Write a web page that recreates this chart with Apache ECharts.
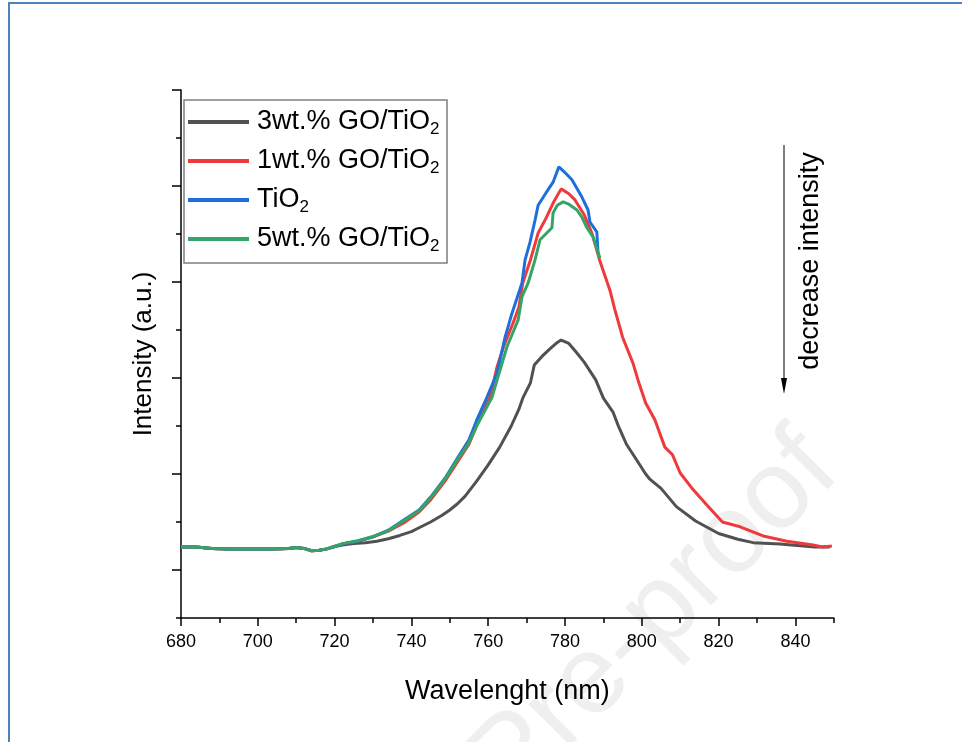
<!DOCTYPE html>
<html style="height: 100%">
<head>
  <meta charset="utf-8">
  <title>PL spectra</title>
</head>
<body style="height: 100%; margin: 0; background: #fff">
  <div id="container" style="width: 962px; height: 742px"></div>
  <script src="https://cdn.jsdelivr.net/npm/echarts@6/dist/echarts.min.js"></script>
  <script type="text/javascript">
    // values, intensity in arbitrary units (one tick = 100)
    var wlShared = [680, 684, 688, 692, 696, 700, 704, 708, 710, 712, 714, 716, 718, 720];
    var intShared = [148, 148, 145, 144, 144, 144, 144, 145, 147, 145, 140, 141, 144, 149];

    var wl3 = [722, 725, 728, 731, 734, 737, 740, 742, 745, 748, 750, 752, 754, 757, 760, 763, 766, 768, 769, 771,
      772, 774, 776, 778, 779, 781, 783, 785, 788, 790, 792.5, 794, 796, 799, 801, 802, 805, 809, 814, 820,
      825, 829, 836, 845, 849];
    var int3 = [152, 155, 157, 160, 165, 172, 180, 188, 200, 214, 225, 238, 254, 285, 319, 356, 400, 435, 458, 490,
      527, 545, 560, 574, 579, 572, 553, 533, 496, 458, 429, 398, 362, 325, 300, 290, 270, 232, 202, 176,
      164, 157, 154, 148, 148];

    var wl1 = [722, 726, 730, 734, 738, 742, 745, 749, 752, 755, 758, 760.5, 762.3, 764, 766.5, 768, 769, 771, 773, 775,
      777, 779, 781, 782.6, 785, 787, 789, 791.7, 793, 795, 797.7, 799, 801, 803.4, 806, 808, 810, 813, 817, 821,
      825.6, 831.6, 837.8, 844.6, 847, 849.5];
    var int1 = [154, 160, 169, 181, 198, 221, 246, 288, 325, 362, 420, 460, 523, 565, 615, 648, 698, 746, 802, 832,
      866, 894, 884, 871, 840, 802, 746, 683, 642, 585, 531, 496, 448, 413, 356, 340, 302, 271, 235, 200,
      190, 171, 160, 152, 148, 150];

    var wlT = [722, 726, 730, 734, 738, 742, 745, 749, 752, 755, 757, 759.7, 762.3, 764.4, 766.2, 768.8, 769.6, 770.9, 772.2, 773,
      775, 776.9, 778.4, 780, 781.8, 784.4, 786, 786.5, 788.3, 788.6];
    var intT = [154, 160, 169, 183, 204, 225, 252, 294, 333, 371, 412, 460, 510, 585, 635, 698, 746, 783, 829, 860,
      885, 908, 940, 928, 913, 877, 850, 825, 804, 760];

    var wl5 = [722, 726, 730, 734, 738, 742, 745, 749, 752, 755, 757, 761, 763.1, 764.9, 767.8, 768.8, 770.4, 772.2, 773.5, 776.6,
      776.9, 778, 779.5, 781, 783.1, 784.4, 785.7, 787.3, 789.1];
    var int5 = [155, 161, 170, 182, 202, 224, 250, 292, 330, 365, 400, 460, 517, 565, 621, 669, 698, 746, 788, 813,
      844, 860, 867, 862, 850, 835, 813, 794, 750];

    var names = ['3wt.% GO/TiO2', '1wt.% GO/TiO2', 'TiO2', '5wt.% GO/TiO2'];
    var colors = ['#515151', '#ef3a3c', '#1f6fdb', '#35a466'];

    function pairs(xs, ys) {
      var out = [];
      for (var i = 0; i < xs.length; i++) out.push([xs[i], ys[i]]);
      return out;
    }
    var curves = [
      pairs(wlShared.concat(wl3), intShared.concat(int3)),
      pairs(wlShared.concat(wl1), intShared.concat(int1)),
      pairs(wlShared.concat(wlT), intShared.concat(intT)),
      pairs(wlShared.concat(wl5), intShared.concat(int5))
    ];

    var font = "'Liberation Sans', Arial, sans-serif";
    var dom = document.getElementById('container');
    var myChart = echarts.init(dom, null, { renderer: 'canvas' });

    var series = curves.map(function (d, i) {
      return {
        name: names[i],
        type: 'line',
        xAxisIndex: 0,
        yAxisIndex: 0,
        data: d,
        showSymbol: false,
        symbol: 'none',
        color: colors[i],
        lineStyle: { width: 3, color: colors[i] },
        z: 2 + i
      };
    });

    var tickStyle = { color: '#000', width: 1.5 };
    var off = { show: false };

    var option = {
      animation: false,
      backgroundColor: '#fff',
      textStyle: { fontFamily: font },
      grid: [
        { left: 181, top: 90, width: 652.8, height: 528, containLabel: false, outerBoundsMode: 'none' },
        // grid 1 carries the major x ticks and labels, grid 2 the major y ticks
        { left: 181, top: 90, width: 614.4, height: 528, containLabel: false, outerBoundsMode: 'none' },
        { left: 181, top: 90, width: 652.8, height: 480, containLabel: false, outerBoundsMode: 'none' }
      ],
      xAxis: [{
        type: 'value', gridIndex: 0, min: 680, max: 850, interval: 10,
        name: 'Wavelenght (nm)', nameLocation: 'middle', nameGap: 60,
        nameTextStyle: { fontSize: 27, color: '#000', fontFamily: font },
        axisLine: { lineStyle: tickStyle },
        axisTick: { inside: false, length: 5, lineStyle: tickStyle },
        axisLabel: off,
        splitLine: off
      }, {
        type: 'value', gridIndex: 1, min: 680, max: 840, interval: 20,
        axisLine: off,
        axisTick: { inside: false, length: 8, lineStyle: tickStyle },
        axisLabel: { fontSize: 18, color: '#000', margin: 15, fontFamily: font },
        splitLine: off
      }, {
        type: 'value', gridIndex: 2, min: 0, max: 1, show: false
      }],
      yAxis: [{
        type: 'value', gridIndex: 0, min: 0, max: 1100, interval: 100,
        name: 'Intensity (a.u.)', nameLocation: 'middle', nameGap: 24,
        nameTextStyle: { fontSize: 26, color: '#000', fontFamily: font },
        axisLine: { show: true, lineStyle: tickStyle },
        axisTick: { show: true, inside: false, length: 5, lineStyle: tickStyle },
        axisLabel: off,
        splitLine: off
      }, {
        type: 'value', gridIndex: 1, min: 0, max: 1, show: false
      }, {
        type: 'value', gridIndex: 2, min: 0, max: 5, interval: 1,
        axisLine: off,
        axisTick: { show: true, inside: false, length: 9, lineStyle: tickStyle },
        axisLabel: off,
        splitLine: off
      }],
      legend: {
        orient: 'vertical',
        left: 188,
        top: 106,
        padding: 0,
        itemGap: 7,
        itemWidth: 61,
        itemHeight: 4,
        icon: 'rect',
        selectedMode: false,
        data: names,
        formatter: function (n) { return n.replace(/O2$/, 'O{s|2}'); },
        textStyle: {
          fontSize: 27, lineHeight: 32, color: '#000', fontFamily: font, padding: [0, 0, 0, 3],
          rich: { s: { fontSize: 17, lineHeight: 16, verticalAlign: 'bottom', color: '#000', fontFamily: font } }
        }
      },
      graphic: [
        {
          type: 'text', z: -1, rotation: Math.PI / 4, x: 860, y: 492,
          style: { text: 'Journal Pre-proof', fill: '#efefef', font: '112px ' + font, textAlign: 'right', textVerticalAlign: 'bottom' },
          silent: true
        },
        {
          type: 'polyline', z: 10, silent: true,
          shape: { points: [[9, 760], [9, 3], [980, 3]] },
          style: { stroke: '#4f81bd', lineWidth: 2, fill: null }
        },
        {
          type: 'rect', z: 10, silent: true,
          shape: { x: 184, y: 100, width: 263, height: 163 },
          style: { stroke: '#7f7f7f', lineWidth: 1.5, fill: null }
        },
        {
          type: 'line', z: 10, silent: true,
          shape: { x1: 784, y1: 145, x2: 784, y2: 382 },
          style: { stroke: '#000', lineWidth: 1 }
        },
        {
          type: 'polygon', z: 10, silent: true,
          shape: { points: [[781, 378], [787, 378], [784, 394]] },
          style: { fill: '#000' }
        },
        {
          type: 'text', z: 10, silent: true, rotation: Math.PI / 2, x: 811, y: 261,
          style: { text: 'decrease intensity', fill: '#000', font: '27px ' + font, textAlign: 'center', textVerticalAlign: 'middle' }
        }
      ],
      series: series
    };

    myChart.setOption(option, true);
  </script>
</body>
</html>
